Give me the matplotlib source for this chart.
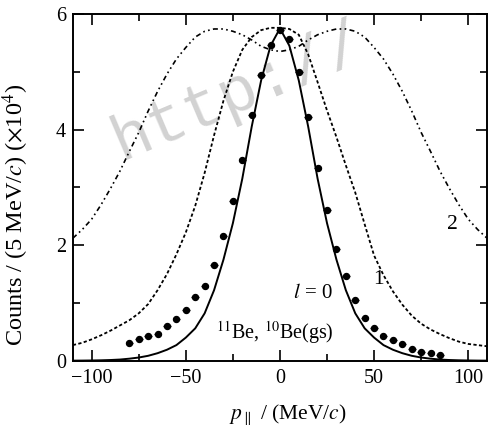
import numpy as np
import matplotlib
matplotlib.use("Agg")
import matplotlib.pyplot as plt
from matplotlib.ticker import MultipleLocator

plt.rcParams['font.family'] = ['Liberation Serif', 'DejaVu Serif']
plt.rcParams['mathtext.fontset'] = 'stix'

# ---- data: measured points (counts, x10^4) ----
p_data = [-80, -75, -70, -65, -60, -55, -50, -45, -40, -35, -30, -25, -20, -15, -10, -5, 0,
          5, 10, 15, 20, 25, 30, 35, 40, 45, 50, 55, 60, 65, 70, 75, 80, 85]
counts = [0.31, 0.38, 0.42, 0.47, 0.60, 0.73, 0.87, 1.10, 1.29, 1.66, 2.15, 2.76, 3.48, 4.25, 4.95, 5.46, 5.73,
          5.56, 5.00, 4.21, 3.34, 2.60, 1.94, 1.47, 1.05, 0.74, 0.56, 0.43, 0.35, 0.29, 0.21, 0.15, 0.14, 0.10]
p_err = 2.0

# ---- theory curves ----
p_curve = [-110, -105, -100, -95, -90, -85, -80, -75, -70, -65, -60, -55, -50, -45, -40, -35, -30, -25, -20,
           -15, -10, -5, 0, 5, 10, 15, 20, 25, 30, 35, 40, 45, 50, 55, 60, 65, 70, 75, 80, 85, 90, 95,
           100, 105, 110]
l0 = [0.001, 0.002, 0.004, 0.007, 0.012, 0.02, 0.035, 0.055, 0.085, 0.13, 0.19, 0.27, 0.40, 0.56, 0.82,
      1.22, 1.75, 2.38, 3.15, 4.05, 4.85, 5.45, 5.75, 5.45, 4.85, 4.05, 3.15, 2.38, 1.75, 1.22, 0.82,
      0.56, 0.40, 0.27, 0.19, 0.13, 0.085, 0.055, 0.035, 0.02, 0.012, 0.007, 0.004, 0.002, 0.001]
l1 = [0.27, 0.31, 0.37, 0.44, 0.52, 0.61, 0.70, 0.82, 0.98, 1.22, 1.50, 1.84, 2.22, 2.68, 3.25, 3.90,
      4.50, 5.00, 5.38, 5.60, 5.72, 5.76, 5.76, 5.74, 5.64, 5.30, 4.82, 4.33, 3.87, 3.38, 2.91, 2.36,
      1.82, 1.48, 1.20, 0.97, 0.78, 0.64, 0.54, 0.46, 0.39, 0.33, 0.29, 0.27, 0.25]
l2 = [2.12, 2.27, 2.45, 2.70, 2.98, 3.28, 3.62, 3.95, 4.32, 4.66, 4.96, 5.22, 5.42, 5.60, 5.70, 5.74,
      5.74, 5.70, 5.64, 5.55, 5.44, 5.38, 5.35, 5.38, 5.44, 5.55, 5.64, 5.70, 5.74, 5.74, 5.70, 5.60,
      5.42, 5.22, 4.96, 4.66, 4.32, 3.95, 3.62, 3.28, 2.98, 2.70, 2.45, 2.27, 2.12]

fig = plt.figure(figsize=(4.89, 4.36), dpi=100)
ax = fig.add_axes([0.149, 0.1727, 0.847, 0.7953])

ax.plot(p_curve, l2, color='black', lw=1.2, linestyle=(0, (3, 2, 1, 2, 1, 2)), zorder=2)
ax.plot(p_curve, l1, color='black', lw=1.3, linestyle=(0, (1.8, 1.3)), zorder=2)
ax.plot(p_curve, l0, color='black', lw=1.4, linestyle='-', zorder=3)
ax.errorbar(p_data, counts, xerr=p_err, fmt='o', color='black', ms=4.3, elinewidth=1.0,
            capsize=0, zorder=4)

ax.set_xlim(-110, 110)
ax.set_ylim(0, 6)
ax.xaxis.set_major_locator(MultipleLocator(50))
ax.xaxis.set_minor_locator(MultipleLocator(25))
ax.yaxis.set_major_locator(MultipleLocator(2))
ax.yaxis.set_minor_locator(MultipleLocator(1))
ax.tick_params(which='both', direction='in', top=True, right=True, labelsize=14.5, width=1.2)
ax.tick_params(which='major', length=8)
ax.tick_params(which='minor', length=5)
ax.tick_params(axis='x', which='major', pad=6)
ax.tick_params(axis='y', which='major', pad=5)
for s in ax.spines.values():
    s.set_linewidth(1.4)

ax.set_xlabel(r"$p_{\parallel}$ / (MeV/$c$)", fontsize=15.5)
ax.set_ylabel(r"Counts / (5 MeV/$c$) ($\times$10$^4$)", fontsize=17.5)
ax.xaxis.set_label_coords(0.519, -0.12)
ax.yaxis.set_label_coords(-0.10, 0.42)

ax.text(17.5, 1.17, r"$l$ = 0", fontsize=15, ha='center', va='center')
ax.text(52.5, 1.40, "1", fontsize=15.5, ha='center', va='center')
ax.text(91.4, 2.35, "2", fontsize=15.5, ha='center', va='center')
ax.text(-2.8, 0.48, r"$^{11}$Be, $^{10}$Be(gs)", fontsize=14.5, ha='center', va='center')

ax.text(238 / 489, 1 - 92 / 436, "http://", transform=fig.transFigure, fontsize=46,
        family='Liberation Mono', color='#d2d2d2', rotation=23, rotation_mode='anchor',
        ha='center', va='center', clip_on=False, zorder=1)

fig.savefig("out.png", dpi=100)
